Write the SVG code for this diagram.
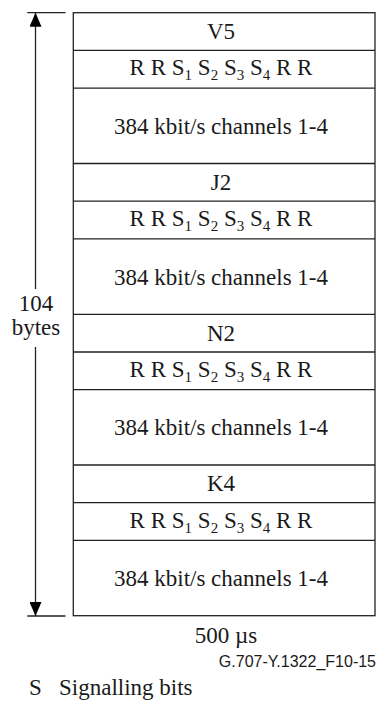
<svg xmlns="http://www.w3.org/2000/svg" width="378" height="707" viewBox="0 0 378 707">
<style>
.t{font-family:"Liberation Serif","Times New Roman",serif;font-size:23px;fill:#1a1a1a}
.c{text-anchor:middle}
.sub{font-size:15px}
.ln{stroke:#222;stroke-width:1.3;fill:none}
.code{font-family:"Liberation Sans",Arial,sans-serif;font-size:16px;fill:#1a1a1a;text-anchor:end}
</style>
<defs>
<marker id="ah" viewBox="0 0 14 12" refX="14" refY="6" markerWidth="14" markerHeight="12" markerUnits="userSpaceOnUse" orient="auto">
<path d="M0,0 L14,6 L0,12 Z" fill="#000"/>
</marker>
</defs>
<rect width="378" height="707" fill="#fff"/>
<g id="frame">
<rect class="ln" x="73.3" y="12.7" width="301.7" height="603"/>
</g>
<g id="row-v5"><line class="ln" x1="73.3" y1="50.4" x2="375" y2="50.4"/><text class="t c" x="221" y="39">V5</text></g>
<g id="row-s1"><line class="ln" x1="73.3" y1="88.1" x2="375" y2="88.1"/><text class="t c" x="221" y="75.4">R R S<tspan class="sub" dy="5">1</tspan><tspan dy="-5"> S</tspan><tspan class="sub" dy="5">2</tspan><tspan dy="-5"> S</tspan><tspan class="sub" dy="5">3</tspan><tspan dy="-5"> S</tspan><tspan class="sub" dy="5">4</tspan><tspan dy="-5"> R R</tspan></text></g>
<g id="row-ch1"><line class="ln" x1="73.3" y1="163.5" x2="375" y2="163.5"/><text class="t c" x="221" y="133.8">384 kbit/s channels 1-4</text></g>
<g id="row-j2"><line class="ln" x1="73.3" y1="201.2" x2="375" y2="201.2"/><text class="t c" x="221" y="189.9">J2</text></g>
<g id="row-s2"><line class="ln" x1="73.3" y1="238.9" x2="375" y2="238.9"/><text class="t c" x="221" y="226.1">R R S<tspan class="sub" dy="5">1</tspan><tspan dy="-5"> S</tspan><tspan class="sub" dy="5">2</tspan><tspan dy="-5"> S</tspan><tspan class="sub" dy="5">3</tspan><tspan dy="-5"> S</tspan><tspan class="sub" dy="5">4</tspan><tspan dy="-5"> R R</tspan></text></g>
<g id="row-ch2"><line class="ln" x1="73.3" y1="314.3" x2="375" y2="314.3"/><text class="t c" x="221" y="284.6">384 kbit/s channels 1-4</text></g>
<g id="row-n2"><line class="ln" x1="73.3" y1="352" x2="375" y2="352"/><text class="t c" x="221" y="340.6">N2</text></g>
<g id="row-s3"><line class="ln" x1="73.3" y1="389.6" x2="375" y2="389.6"/><text class="t c" x="221" y="376.8">R R S<tspan class="sub" dy="5">1</tspan><tspan dy="-5"> S</tspan><tspan class="sub" dy="5">2</tspan><tspan dy="-5"> S</tspan><tspan class="sub" dy="5">3</tspan><tspan dy="-5"> S</tspan><tspan class="sub" dy="5">4</tspan><tspan dy="-5"> R R</tspan></text></g>
<g id="row-ch3"><line class="ln" x1="73.3" y1="465" x2="375" y2="465"/><text class="t c" x="221" y="435.3">384 kbit/s channels 1-4</text></g>
<g id="row-k4"><line class="ln" x1="73.3" y1="502.7" x2="375" y2="502.7"/><text class="t c" x="221" y="491.4">K4</text></g>
<g id="row-s4"><line class="ln" x1="73.3" y1="540.4" x2="375" y2="540.4"/><text class="t c" x="221" y="527.5">R R S<tspan class="sub" dy="5">1</tspan><tspan dy="-5"> S</tspan><tspan class="sub" dy="5">2</tspan><tspan dy="-5"> S</tspan><tspan class="sub" dy="5">3</tspan><tspan dy="-5"> S</tspan><tspan class="sub" dy="5">4</tspan><tspan dy="-5"> R R</tspan></text></g>
<g id="row-ch4"><text class="t c" x="221" y="586">384 kbit/s channels 1-4</text></g>
<g id="connectors">
<line class="ln" x1="27.3" y1="12.7" x2="65.5" y2="12.7"/>
<line class="ln" x1="27.3" y1="616" x2="65.5" y2="616"/>
<line class="ln" x1="35.5" y1="289" x2="35.5" y2="12.7" marker-end="url(#ah)"/>
<line class="ln" x1="35.5" y1="347" x2="35.5" y2="616" marker-end="url(#ah)"/>
</g>
<g id="labels">
<text class="t c" x="36" y="310.7">104</text>
<text class="t c" x="36" y="335">bytes</text>
<text class="t c" x="226" y="643.3">500 µs</text>
<text class="code" x="376" y="667">G.707-Y.1322_F10-15</text>
<text class="t" x="29" y="695">S</text>
<text class="t" x="59" y="695">Signalling bits</text>
</g>
</svg>
